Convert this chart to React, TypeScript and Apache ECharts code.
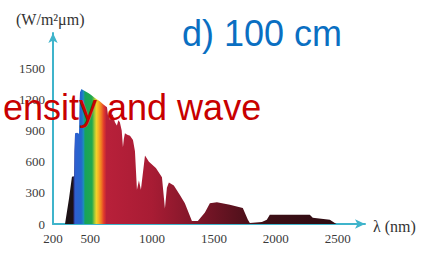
import React, { useEffect, useRef } from "react";
import * as echarts from "echarts";

// Solar spectral irradiance
const wavelength = [297, 330, 353, 370, 372, 378, 395, 410, 414, 418, 430, 442, 460, 482, 500, 539, 580, 610, 636, 645, 652, 660, 672, 684, 700, 716, 728, 740, 755, 765, 772, 781, 800, 822, 846, 862, 878, 894, 910, 943, 975, 1031, 1080, 1096, 1104, 1120, 1136, 1176, 1225, 1265, 1298, 1322, 1370, 1427, 1467, 1524, 1628, 1733, 1774, 1790, 1887, 1927, 1951, 2274, 2298, 2436, 2476, 2490];
const irradiance = [0, 250, 455, 460, 700, 875, 880, 870, 1150, 1270, 1300, 1290, 1280, 1265, 1250, 1215, 1180, 1150, 1125, 1040, 1090, 1000, 1060, 1050, 980, 950, 1000, 980, 900, 740, 820, 875, 860, 850, 810, 700, 330, 420, 330, 660, 600, 540, 450, 250, 150, 350, 400, 370, 280, 200, 100, 30, 30, 110, 200, 210, 185, 155, 40, 10, 20, 40, 90, 90, 60, 40, 10, 0];

const xTicks = [200, 500, 1000, 1500, 2000, 2500];
const yTicks = [0, 300, 600, 900, 1200, 1500];

const yUnit = "(W/m²μm)";
const xUnit = "λ (nm)";
const overlayRed = "ensity and wave";
const overlayBlue = "d) 100 cm";

// colour bands along wavelength
const bandEdges = [297, 362, 368, 378, 428, 448, 458, 515, 535, 550, 568, 590, 610, 632, 1000, 1500, 1900, 2490];
const bandColors = ["#1c1216", "#1c1216", "#2d2c78", "#2e5fd0", "#2466cc", "#1b90b8", "#17a35a", "#21a84e", "#9cc63a", "#f0d42a", "#f5b025", "#ef7a22", "#e23a2c", "#b8203a", "#a81c34", "#6e1424", "#3e0f16", "#2e0c12"];

export default function App() {
  const ref = useRef<HTMLDivElement>(null);
  useEffect(() => {
    if (!ref.current) return;
    const chart = echarts.init(ref.current, null, { renderer: "svg" });
    const lo = wavelength[0];
    const hi = wavelength[wavelength.length - 1];
    const stops = bandEdges.map((w, i) => ({
      offset: Math.min(1, Math.max(0, (w - lo) / (hi - lo))),
      color: bandColors[i],
    }));
    const axisColor = "#3fb4cb";
    const serif = "'Liberation Serif', 'DejaVu Serif', serif";
    chart.setOption({
      animation: false,
      backgroundColor: "#ffffff",
      grid: { left: 53, right: 65, top: 33, bottom: 29 },
      xAxis: {
        type: "value",
        min: 200,
        max: 2720,
        splitLine: { show: false },
        axisTick: { show: false },
        axisLine: {
          show: true,
          onZero: false,
          lineStyle: { color: axisColor, width: 2 },
          symbol: ["none", "arrow"],
          symbolSize: [7, 10],
        },
        axisLabel: {
          customValues: xTicks,
          formatter: (v: number) => String(v),
          margin: 8,
          color: "#3a3a3a",
          fontFamily: serif,
          fontSize: 13,
        },
      },
      yAxis: {
        type: "value",
        min: 0,
        max: 1840,
        splitLine: { show: false },
        axisTick: { show: false },
        axisLine: {
          show: true,
          lineStyle: { color: axisColor, width: 2 },
          symbol: ["none", "arrow"],
          symbolSize: [7, 10],
        },
        axisLabel: {
          customValues: yTicks,
          formatter: (v: number) => String(v),
          margin: 8,
          color: "#3a3a3a",
          fontFamily: serif,
          fontSize: 13,
        },
      },
      series: [
        {
          type: "line",
          data: wavelength.map((w, i) => [w, irradiance[i]]),
          showSymbol: false,
          lineStyle: { width: 0 },
          areaStyle: {
            opacity: 1,
            color: new echarts.graphic.LinearGradient(0, 0, 1, 0, stops),
          },
          z: 1,
        },
      ],
      graphic: [
        {
          type: "text",
          left: 16,
          top: 11,
          style: { text: yUnit, font: `16px ${serif}`, fill: "#333" },
        },
        {
          type: "text",
          left: 373,
          top: 218,
          style: { text: xUnit, font: `16px ${serif}`, fill: "#333" },
        },
        {
          type: "text",
          x: 3,
          y: 107,
          z: 100,
          style: {
            text: overlayRed,
            font: "36px 'Liberation Sans', Arial, sans-serif",
            fill: "#c80000",
            textVerticalAlign: "middle",
          },
        },
        {
          type: "text",
          x: 182,
          y: 33,
          z: 100,
          style: {
            text: overlayBlue,
            font: "36px 'Liberation Sans', Arial, sans-serif",
            fill: "#0a6fc2",
            textVerticalAlign: "middle",
          },
        },
      ],
    });
    return () => chart.dispose();
  }, []);
  return (
    <div
      ref={ref}
      style={{ position: "fixed", left: 0, top: 0, width: 430, height: 253 }}
    />
  );
}
